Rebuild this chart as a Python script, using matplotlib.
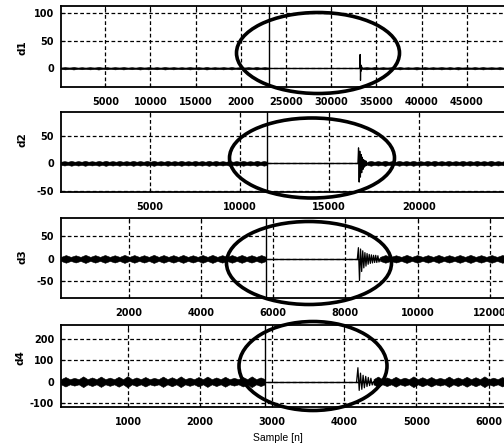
import numpy as np
import matplotlib
matplotlib.use("Agg")
import matplotlib.pyplot as plt
from matplotlib.patches import Ellipse

plt.rcParams["axes.unicode_minus"] = False

W, H = 504, 447

# ---------------- data ----------------
panel_names = ["d1", "d2", "d3", "d4"]
xlims = [(100, 50000), (50, 25000), (110, 12500), (70, 6250)]
ylims = [(-34, 113), (-52, 93), (-87, 91), (-117, 263)]

d1_xticks = [5000, 10000, 15000, 20000, 25000, 30000, 35000, 40000, 45000]
d1_xticklabels = ["5000", "10000", "15000", "2000", "25000", "30000", "35000", "40000", "45000"]
d2_xticks = [5000, 10000, 15000, 20000]
d3_xticks = [2000, 4000, 6000, 8000, 10000, 12000]
d4_xticks = [1000, 2000, 3000, 4000, 5000, 6000]
d1_yticks = [0, 50, 100]
d2_yticks = [-50, 0, 50]
d3_yticks = [-50, 0, 50]
d4_yticks = [-100, 0, 100, 200]

event_samples = [23100, 11550, 5800, 2900]
spike_samples = [33150, 16600, 8330, 4170]
burst_step = [40, 35, 30, 18]

d1_burst = [0, 25, -22, 6, -5, 3, -2, 0]
d2_burst = [0, 28, -34, 22, -25, 16, -17, 11, -11, 7, -7, 5, -5, 4, -4, 0]
d3_burst = [0, 25, -48, 22, -28, 18, -20, 14, -16, 12, -12, 10, -10, 9, -9, 8, -8, 8, -8, 7, -7, 0]
d4_burst = [0, 65, -40, 40, -35, 30, -28, 25, -22, 20, -18, 16, -15, 0]

d1_base = 1.0
d1_beads_pre = [2.0, 2.2, 1.8, 2.0, 2.3, 1.9, 2.0, 2.1, 1.8, 2.2, 2.0, 1.9, 2.2,
                2.0, 1.8, 2.1, 2.0, 2.2, 1.9, 2.0, 2.1, 1.8, 2.0, 2.2, 2.0]
d1_beads_post = [2.0, 2.2, 1.9, 2.0, 2.1, 1.8, 2.2, 2.0, 1.9, 2.1, 2.0, 2.2, 1.8,
                 2.0, 2.1, 1.9, 2.0, 2.2]

d2_base = 2.8
d2_beads_pre = [4.0, 4.4, 4.1, 4.5, 3.9, 4.4, 4.6, 4.1, 4.4, 4.0, 4.5, 4.2, 4.4, 4.6, 4.0,
                4.4, 4.1, 4.5, 4.0, 4.4, 4.2, 4.6, 4.4, 4.0, 4.5, 4.1, 4.4, 4.0, 4.6, 4.3]
d2_beads_post = [4.4, 4.1, 4.6, 4.0, 4.4, 4.2, 4.5, 4.0, 4.4, 4.6, 4.1, 4.4, 4.0, 4.5,
                 4.2, 4.4, 4.1, 4.6, 4.0, 4.4]

d3_base = 4.5
d3_beads_pre = [8.5, 8.0, 9.0, 8.3, 8.7, 8.1, 8.9, 8.5, 8.2, 9.0, 8.5, 8.3, 8.8, 8.1,
                8.6, 8.9, 8.3, 8.5, 8.7, 8.2, 8.5]
d3_beads_post = [8.5, 8.1, 8.9, 8.5, 8.3, 8.8, 8.2, 8.6, 8.9, 8.3, 8.5, 8.7]

d4_base = 12.0
d4_beads_pre = [22, 18, 25, 20, 24, 19, 23, 26, 20, 22, 18, 24, 21, 25, 19, 22, 24,
                20, 23, 18, 22, 25, 20]
d4_beads_post = [24, 20, 23, 19, 25, 21, 22, 18, 24, 20, 23, 21, 25, 19, 22]

ellipse_cx = [318, 312, 309, 313]
ellipse_cy = [53, 158, 263, 366]
ellipse_w = [163, 165, 165, 148]
ellipse_h = [81, 80, 83, 89]

# ---------------- layout ----------------
px_per_sample = [45.2 / 5000, 89.7 / 5000, 72.1 / 2000, 72.1 / 1000]
axes_top = [6, 112, 218, 325]
axes_bottom = [87, 192, 298, 407]
left_px = 61
ylabel_pos = [(22, 48), (22, 140), (22, 257), (20, 358)]

xticks_all = [d1_xticks, d2_xticks, d3_xticks, d4_xticks]
xticklabels_all = [d1_xticklabels, None, None, None]
yticks_all = [d1_yticks, d2_yticks, d3_yticks, d4_yticks]
bursts = [d1_burst, d2_burst, d3_burst, d4_burst]
bases = [d1_base, d2_base, d3_base, d4_base]
beads_pre = [d1_beads_pre, d2_beads_pre, d3_beads_pre, d4_beads_pre]
beads_post = [d1_beads_post, d2_beads_post, d3_beads_post, d4_beads_post]

fig = plt.figure(figsize=(W / 100, H / 100), dpi=100)
fig.patch.set_facecolor("white")

tick_font = dict(family="DejaVu Sans", weight="bold", size=7)


def band(ax, start, end, base, beads):
    n = len(beads)
    pos = np.linspace(start, end, 2 * n + 1)
    env = np.full(2 * n + 1, float(base))
    env[1::2] = beads
    ax.fill_between(pos, -env, env, color="k", lw=0.4, edgecolor="k")


for i in range(4):
    x0, x1 = xlims[i]
    width_px = (x1 - x0) * px_per_sample[i]
    ax = fig.add_axes([left_px / W, (H - axes_bottom[i]) / H, width_px / W,
                       (axes_bottom[i] - axes_top[i]) / H])
    ax.set_xlim(x0, x1)
    ax.set_ylim(*ylims[i])

    # signal
    ax.axhline(0, color="k", lw=1.0)
    burst = bursts[i]
    bpos = spike_samples[i] + burst_step[i] * np.arange(len(burst))
    band(ax, x0, event_samples[i], bases[i], beads_pre[i])
    band(ax, bpos[-1], x1, bases[i], beads_post[i])
    ax.plot(bpos, burst, color="k", lw=0.9)
    ax.axvline(event_samples[i], color="k", lw=1.0)

    ax.set_xticks(xticks_all[i])
    if xticklabels_all[i] is not None:
        ax.set_xticklabels(xticklabels_all[i])
    ax.set_yticks(yticks_all[i])
    ax.grid(True, color="k", ls=(0, (3, 2)), lw=0.9)
    ax.tick_params(direction="in", length=3, width=0.8, top=True, right=True,
                   pad=5)
    ax.tick_params(axis="x", pad=7)
    for lab in ax.get_xticklabels() + ax.get_yticklabels():
        lab.set_fontfamily(tick_font["family"])
        lab.set_fontweight(tick_font["weight"])
        lab.set_fontsize(tick_font["size"])
    for s in ax.spines.values():
        s.set_linewidth(1.3)

    lx, ly = ylabel_pos[i]
    fig.text(lx / W, 1 - ly / H, panel_names[i], rotation=90, ha="center",
             va="center", fontsize=7.5, family="DejaVu Sans", weight="bold")

    e = Ellipse((ellipse_cx[i] / 100, (H - ellipse_cy[i]) / 100),
                ellipse_w[i] / 100, ellipse_h[i] / 100,
                transform=fig.dpi_scale_trans, fill=False, lw=2.6, ec="k")
    fig.add_artist(e)

fig.text(278 / W, 1 - 438 / H, "Sample [n]", ha="center", va="center",
         fontsize=7.5, family="Liberation Sans")

fig.savefig("out.png", dpi=100)
